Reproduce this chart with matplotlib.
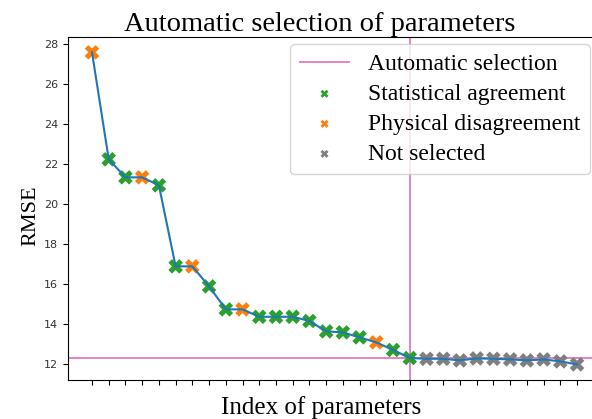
import matplotlib
matplotlib.use("Agg")
import matplotlib.pyplot as plt
import numpy as np

rmse = [27.6, 22.25, 21.35, 21.35, 20.95, 16.9, 16.9, 15.9, 14.75, 14.75,
        14.38, 14.38, 14.38, 14.17, 13.65, 13.6, 13.35, 13.1, 12.72, 12.32,
        12.28, 12.28, 12.2, 12.3, 12.28, 12.25, 12.2, 12.25, 12.15, 12.0]
status = ["phys", "stat", "stat", "phys", "stat", "stat", "phys", "stat", "stat", "phys",
          "stat", "stat", "stat", "stat", "stat", "stat", "stat", "phys", "stat", "stat",
          "none", "none", "none", "none", "none", "none", "none", "none", "none", "none"]
selected_index = 19
labels = {"stat": "Statistical agreement", "phys": "Physical disagreement", "none": "Not selected"}
colors = {"stat": "tab:green", "phys": "tab:orange", "none": "tab:gray"}

W, H = 592, 419
fig = plt.figure(figsize=(W / 100, H / 100), dpi=100)
left_px, right_px = 67.75, 601.3
top_px, bot_px = 36.7, 380
aw = right_px - left_px
ax = fig.add_axes([left_px / W, 1 - bot_px / H, aw / W, (bot_px - top_px) / H])

x = np.arange(len(rmse))
r = np.array(rmse)
st = np.array(status)

ax.axvline(selected_index, color="tab:pink", lw=1.3, zorder=1, label="Automatic selection")
ax.axhline(rmse[selected_index], color="tab:pink", lw=1.3, zorder=1)
for key in ["stat", "phys", "none"]:
    m = st == key
    ax.scatter(x[m], r[m], marker="X", s=110, color=colors[key], zorder=2, label=labels[key],
               edgecolors="none")
ax.plot(x, r, color="tab:blue", lw=1.5, zorder=3)

ax.set_xlim(-1.45, 30.45)
ax.set_ylim(11.22, 28.38)
ax.set_xticks(x)
ax.set_xticklabels([])
ax.set_yticks([12, 14, 16, 18, 20, 22, 24, 26, 28])
ax.tick_params(axis="y", labelsize=8, labelcolor="#333333")

serif = ["Liberation Serif", "DejaVu Serif"]
ax.set_title("Automatic selection of parameters", fontsize=20.5, family=serif, pad=4,
             x=(319.5 - left_px) / aw)
ax.set_ylabel("RMSE", fontsize=16, family=serif)
ax.yaxis.set_label_coords((40 - left_px) / aw, (380 - 216) / (bot_px - top_px))
ax.set_xlabel("Index of parameters", fontsize=18, family=serif)
ax.xaxis.set_label_coords((321 - left_px) / aw, -(396 - bot_px) / (bot_px - top_px))
ax.xaxis.label.set_va("top")

leg = ax.legend(loc="upper right", bbox_to_anchor=(590 / W, 1 - 44 / H),
                bbox_transform=fig.transFigure, borderaxespad=0,
                prop={"family": serif, "size": 17}, markerscale=0.55,
                handlelength=2.1, handletextpad=0.8, labelspacing=0.36)
leg.get_frame().set_edgecolor("#cccccc")

fig.savefig("out.png", dpi=100)
